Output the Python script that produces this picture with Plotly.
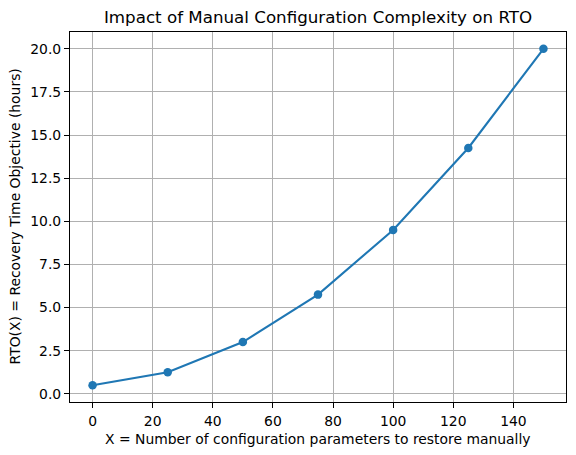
import plotly.graph_objects as go

x_params = [0, 25, 50, 75, 100, 125, 150]
rto_hours = [0.5, 1.25, 3.0, 5.75, 9.5, 14.25, 20.0]
x_ticks = [0, 20, 40, 60, 80, 100, 120, 140]
y_ticks = [0.0, 2.5, 5.0, 7.5, 10.0, 12.5, 15.0, 17.5, 20.0]

FONT = "DejaVu Sans"
W, H = 576, 455
L, R, T, B = 70, 10, 32, 53
PW, PH = W - L - R, H - T - B

fig = go.Figure()
fig.add_trace(go.Scatter(
    x=x_params, y=rto_hours, mode="lines+markers",
    line=dict(color="#1f77b4", width=2.1),
    marker=dict(color="#1f77b4", size=8.5),
    showlegend=False, hoverinfo="skip",
))

axis_common = dict(
    showgrid=True, gridcolor="#b0b0b0", gridwidth=1.1,
    showline=True, linecolor="black", linewidth=1.1, mirror=True,
    ticks="outside", ticklen=5, tickwidth=1.1, tickcolor="black",
    zeroline=False, automargin=False,
    tickfont=dict(family=FONT, size=13.9, color="black"),
)

fig.update_layout(
    width=W, height=H,
    margin=dict(l=L, r=R, t=T, b=B),
    paper_bgcolor="white", plot_bgcolor="white",
    title=dict(text="Impact of Manual Configuration Complexity on RTO",
               x=0.5, xanchor="center", xref="paper", automargin=False,
               y=1 - 17 / H, yanchor="middle", yref="container",
               font=dict(family=FONT, size=16.7, color="black")),
    xaxis=dict(axis_common, range=[-7.5, 157.5], tickvals=x_ticks,
               ticktext=[str(v) for v in x_ticks], ticklabelstandoff=1),
    yaxis=dict(axis_common, range=[-0.475, 20.975], tickvals=y_ticks,
               ticktext=[f"{v:.1f}" for v in y_ticks]),
    annotations=[
        dict(text="X = Number of configuration parameters to restore manually",
             xref="paper", yref="paper", x=0.5, y=(H - B - 439) / PH,
             xanchor="center", yanchor="middle", showarrow=False,
             font=dict(family=FONT, size=13.9, color="black")),
        dict(text="RTO(X) = Recovery Time Objective (hours)",
             xref="paper", yref="paper", x=(14.5 - L) / PW, y=0.5,
             xanchor="center", yanchor="middle", textangle=-90, showarrow=False,
             font=dict(family=FONT, size=13.9, color="black")),
    ],
)

fig.write_html("out.html", config={"displayModeBar": False},
               post_script="document.body.style.margin='0px';")
